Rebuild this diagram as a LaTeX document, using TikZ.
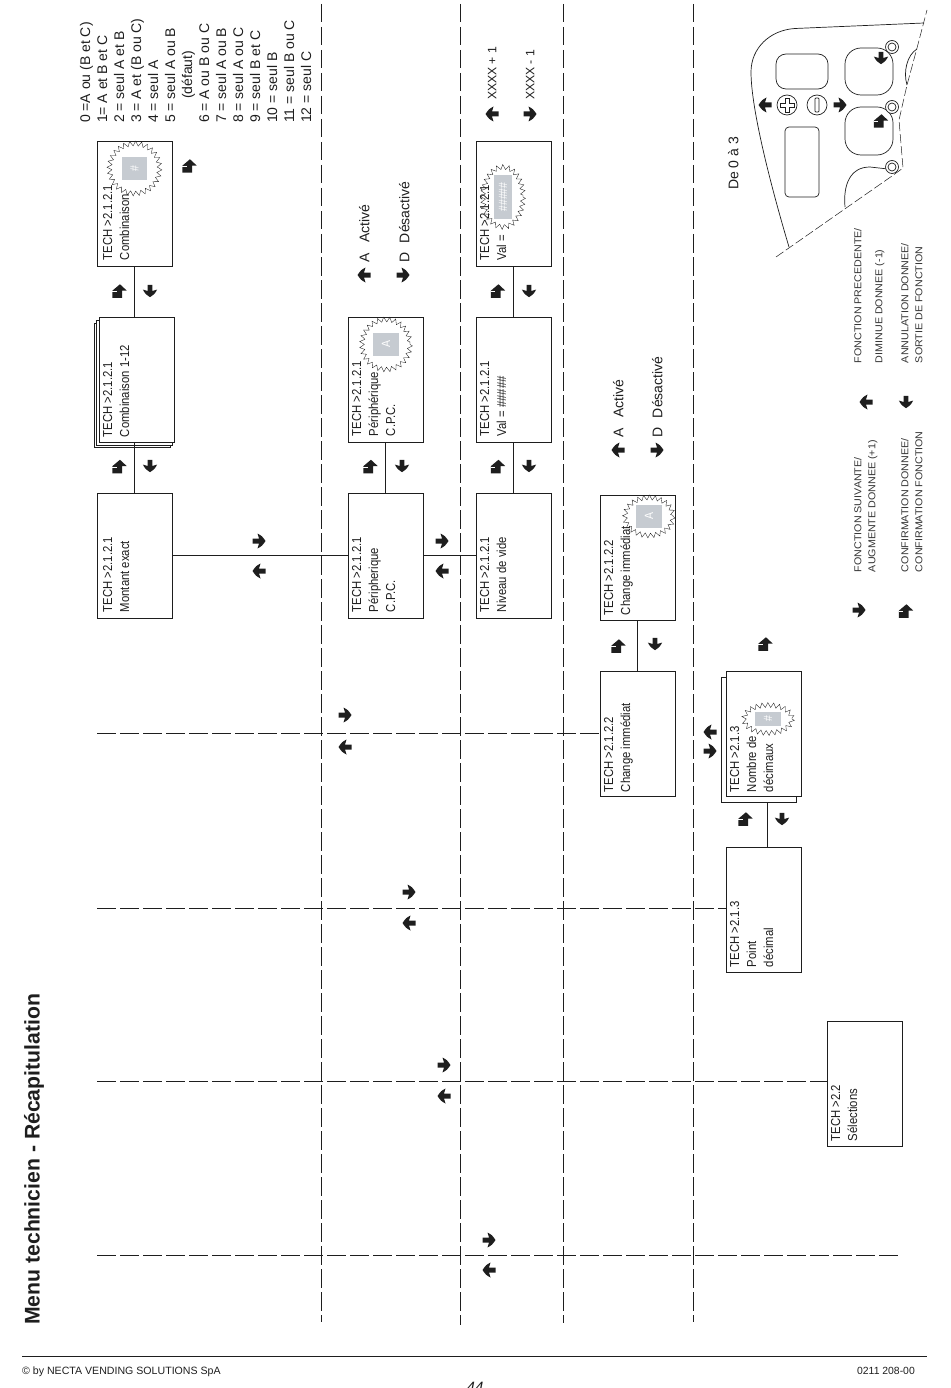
\documentclass[tikz,border=0pt]{standalone}
\usepackage{fontspec}
\setmainfont{Liberation Sans}
\newfontfamily\cond[FakeStretch=0.87]{Liberation Sans}
\newfontfamily\condsm[FakeStretch=1.07]{Liberation Sans}
\usetikzlibrary{decorations.pathmorphing}
\definecolor{ink}{HTML}{1E1E1E}
\definecolor{plate}{HTML}{C6CBD1}
\tikzset{
  x=1pt,y=-1pt,
  boxn/.style={draw=ink,line width=.9pt,fill=white,minimum width=75pt,minimum height=125pt,inner sep=0,outer sep=0},
  boxback/.style={draw=ink,line width=.9pt,fill=white,inner sep=0,outer sep=0},
  rtext/.style={rotate=90,anchor=north west,inner sep=0,outer sep=0,align=left,text=ink,font=\cond\fontsize{13}{17}\selectfont},
  vtext/.style={rtext,font=\fontsize{14}{17}\selectfont},
  xtext/.style={rtext,font=\fontsize{12.2}{17}\selectfont},
  legend/.style={rotate=90,anchor=north west,inner sep=0,outer sep=0,align=left,text=ink!90,font=\condsm\fontsize{10}{14}\selectfont},
  conn/.style={draw=ink,line width=.8pt},
  cut/.style={draw=ink,line width=.8pt,dash pattern=on 18.5pt off 4.5pt},
  star/.style={draw=ink,line width=.35pt,decorate,decoration={zigzag,amplitude=2.4pt,segment length=5.6pt}},
  plt/.style={fill=plate,inner sep=0,outer sep=0,text=white,font=\cond\fontsize{12}{12}\selectfont},
  panel/.style={draw=ink,line width=.7pt},
  cutthin/.style={draw=ink,line width=.5pt,dash pattern=on 9pt off 3pt},
  arw/.pic={\fill[ink] (-6.5,-2.5) -- (0,-2.5) -- (-1.5,-7.5) .. controls (3,-5) .. (6.5,0) .. controls (3,5) .. (-1.5,7.5) -- (0,2.5) -- (-6.5,2.5) -- cycle;},
  ent/.pic={\fill[ink] (.5,-7.5) -- (8,-.5) -- (3,-.5) -- (3,7.5) -- (-8,7.5) -- (-8,-.3) -- cycle;
            \draw[white,line width=.5pt] (-8,.4) -- (-3,.4);},
}
\begin{document}
\begin{tikzpicture}
\useasboundingbox (0,0) rectangle (950,1388);
% vertical and horizontal cut lines
\foreach \n/\x/\e in {a/321/1322,b/460/1325,c/563/1323,d/693/1322}{
  \coordinate (v\n t) at (\x,4);
  \coordinate (v\n b) at (\x,\e);
  \draw[cut] (v\n t) -- (v\n b);
}
% boxes of the map
\node[boxn] (montant) at (134.5,555.5) {};
\draw[boxback] (94,323) rectangle (170,447);
\draw[boxback] (96.5,320) rectangle (172,445);
\node[boxn] (combi) at (136.5,379.5) {};
\node[boxn] (combin) at (134.5,203.5) {};
\node[boxn] (periA) at (385.5,555.5) {};
\node[boxn] (periB) at (385.5,379.5) {};
\node[boxn] (niveau) at (513.5,555.5) {};
\node[boxn] (valA) at (513.5,379.5) {};
\node[boxn] (valB) at (513.5,203.5) {};
\node[boxn] (chgB) at (637.5,558) {};
\node[boxn] (chgA) at (637.5,734) {};
\node[boxn,fill=none] (nombreback) at (758.5,739.5) {};
\node[boxn] (nombre) at (764,734) {};
\node[boxn] (point) at (764,909.5) {};
\node[boxn] (selec) at (865,1083.5) {};
% connectors
\draw[conn] (montant.north) -- (combi.south -| montant.north);
\draw[conn] (combi.north -| montant.north) -- (combin.south);
\draw[conn] (periA.north) -- (periB.south);
\draw[conn] (niveau.north) -- (valA.south);
\draw[conn] (valA.north) -- (valB.south);
\draw[conn] (chgA.north) -- (chgB.south);
\draw[conn] (nombreback.south -| 767,0) -- (point.north -| 767,0);
\draw[conn] (montant.east) -- (periA.west);
\draw[conn] (periA.east) -- (niveau.west);
\coordinate (h1) at (97,733); \coordinate (h2) at (97,908);
\coordinate (h3) at (97,1081); \coordinate (h4) at (97,1255); \coordinate (h4e) at (902,1255);
\draw[cut] (h1) -- (chgA.west |- h1);
\draw[cut] (h2) -- (point.west |- h2);
\draw[cut] (h3) -- (selec.west |- h3);
\draw[cut] (h4) -- (h4e);
% box texts
\node[rtext] (t1) at (103,612) {TECH >2.1.2.1\\Montant exact};
\node[rtext] (t2) at (103,437) {TECH >2.1.2.1\\Combinaison 1-12};
\node[rtext] (t3) at (103,260) {TECH >2.1.2.1\\Combinaison};
\node[rtext] (t4) at (352,612) {TECH >2.1.2.1\\Péripherique\\C.P.C.};
\node[rtext] (t5) at (352,436) {TECH >2.1.2.1\\Périphérique\\C.P.C.};
\node[rtext] (t6) at (480,612) {TECH >2.1.2.1\\Niveau de vide};
\node[rtext] (t7) at (480,436) {TECH >2.1.2.1\\Val = \#\#\#\#\#};
\node[rtext] (t8) at (480,260) {TECH >2.1.2.1\\Val =};
\node[rtext] (t9) at (604,615) {TECH >2.1.2.2\\Change immédiat};
\node[rtext] (t10) at (604,792) {TECH >2.1.2.2\\Change immédiat};
\node[rtext] (t11) at (730,792) {TECH >2.1.3\\Nombre de\\décimaux};
\node[rtext] (t12) at (730,967) {TECH >2.1.3\\Point\\décimal};
\node[rtext] (t13) at (831,1141) {TECH >2.2\\Sélections};
% bursts
\node[plt,minimum width=25pt,minimum height=23pt] (p1) at (134.5,168.5) {\rotatebox{90}{\#}};
\draw[star] (p1.center) ellipse [x radius=25,y radius=25];
\node[plt,minimum width=26pt,minimum height=23pt] (p2) at (386,344.5) {\rotatebox{90}{A}};
\draw[star] (p2.center) ellipse [x radius=24,y radius=25];
\node[plt,minimum width=18pt,minimum height=44pt] (p3) at (503,197) {\rotatebox{90}{\#\#\#\#\#}};
\draw[star] (p3.center) ellipse [x radius=20,y radius=30];
\node[plt,minimum width=26pt,minimum height=23pt] (p4) at (649,516.5) {\rotatebox{90}{A}};
\draw[star] (p4.center) ellipse [x radius=24,y radius=19];
\node[plt,minimum width=26pt,minimum height=14pt] (p5) at (768,719) {\rotatebox{90}{\#}};
\draw[star] (p5.center) ellipse [x radius=24,y radius=14];
% arrows
\foreach \p in {(259,541),(442,541),(345,715),(409,892),(444,1065),(489,1240),(403,275),(657,450),(530,114),(710,751),(859,610),(840,105)}
  \pic at \p {arw};
\foreach \p in {(259,571),(442,571),(345,747),(409,923),(444,1096),(489,1270),(364,275),(618,450),(492,114),(710,732),(866,402),(765,105)}
  \pic[rotate=180] at \p {arw};
\foreach \p in {(150,291),(150,466),(402,466),(529,291),(529,466),(655,644),(782,819),(906,402),(881,58)}
  \pic[rotate=-90,scale=.95] at \p {arw};
\foreach \p in {(119.5,291),(119.5,466.5),(370.5,466.5),(498,291),(498,466.5),(618.5,646),(745.5,819),(765.5,644),(189.5,166),(906,611),(881,121)}
  \pic[scale=.9] at \p {ent};
% explanation texts
\node[vtext] (list) at (80,123) {0 =A ou (B et C)\\1= A et B et C\\2 = seul A et B\\3 = A et (B ou C)\\4 = seul A\\5 = seul A ou B\\\hspace*{24pt}(défaut)\\6 = A ou B ou C\\7 = seul A ou B\\8 = seul A ou C\\9 = seul B et C\\10 = seul B\\11 = seul B ou C\\12 = seul C};
\node[vtext] (a1) at (359,262) {A\hspace{6pt} Activé};
\node[vtext] (a2) at (399,262) {D\hspace{5pt} Désactivé};
\node[xtext] (a3) at (488,100) {XXXX + 1};
\node[xtext] (a4) at (526,100) {XXXX - 1};
\node[vtext] (a5) at (613,437) {A\hspace{6pt} Activé};
\node[vtext] (a6) at (652,437) {D\hspace{5pt} Désactivé};
\node[vtext] (de) at (728,190) {De 0 à 3};
% legend
\node[legend] (l1) at (854,572) {FONCTION SUIVANTE/\\AUGMENTE DONNEE (+1)};
\node[legend] (l2) at (901,572) {CONFIRMATION DONNEE/\\CONFIRMATION FONCTION};
\node[legend] (l3) at (854,363) {FONCTION PRECEDENTE/};
\node[legend] (l4) at (875,363) {DIMINUE DONNEE (-1)};
\node[legend] (l5) at (901,363) {ANNULATION DONNEE/\\SORTIE DE FONCTION};
% control panel
\draw[panel] (924,23) -- (795,28.5) .. controls (770,30) and (751,48) .. (751,72) .. controls (751,110) and (772,190) .. (789,247);
\draw[cutthin] (776,257) -- (892,176) -- (903,168) -- (899,120) -- (907,85) -- (917,48) -- (927,10);
\draw[panel,rounded corners=10] (776,54) rectangle (828,89);
\draw[panel,rounded corners=4] (785,127) rectangle (819,197);
\draw[panel,rounded corners=16] (845,48) rectangle (893,95);
\draw[panel,rounded corners=16] (845,107) rectangle (893,155);
\draw[panel] (845,207) .. controls (843,185) and (850,167) .. (870,167) -- (888,169);
\draw[panel] (907,85) .. controls (903,72) and (907,55) .. (917,49);
\foreach \n/\y in {r1/47,r2/107,r3/167}{
  \node[circle,draw=ink,line width=.7pt,fill=white,minimum size=13pt,inner sep=0] (\n o) at (892,\y) {};
  \node[circle,draw=ink,line width=.7pt,minimum size=8pt,inner sep=0] (\n i) at (892,\y) {};
}
\node[circle,draw=ink,line width=.7pt,minimum size=20pt,inner sep=0] (plus) at (787,105) {};
\draw[ink,line width=.7pt] (785,98) -- (789,98) -- (789,103) -- (794,103) -- (794,107) -- (789,107) -- (789,112) -- (785,112) -- (785,107) -- (780,107) -- (780,103) -- (785,103) -- cycle;
\node[circle,draw=ink,line width=.7pt,minimum size=20pt,inner sep=0] (minus) at (817,105) {};
\draw[ink,line width=.7pt,rounded corners=.8] (815,98) rectangle (819,112);
% title and footer
\node[rotate=90,anchor=north west,inner sep=0,font=\bfseries\fontsize{21.2}{23}\selectfont,text=ink] (title) at (24,1325) {Menu technicien - Récapitulation};
\coordinate (r0) at (22,1356); \coordinate (r1) at (927,1356);
\draw[ink,line width=.8pt] (r0) -- (r1);
\node[anchor=west,inner sep=0,font=\fontsize{10.6}{12}\selectfont,text=ink] (foot1) at (22,1372) {© by NECTA VENDING SOLUTIONS SpA};
\node[anchor=east,inner sep=0,font=\fontsize{10.4}{12}\selectfont,text=ink] (foot2) at (915,1371) {0211 208-00};
\node[anchor=north,inner sep=0,font=\itshape\fontsize{15}{15}\selectfont,text=ink] (page) at (475,1382) {44};
\end{tikzpicture}
\end{document}
